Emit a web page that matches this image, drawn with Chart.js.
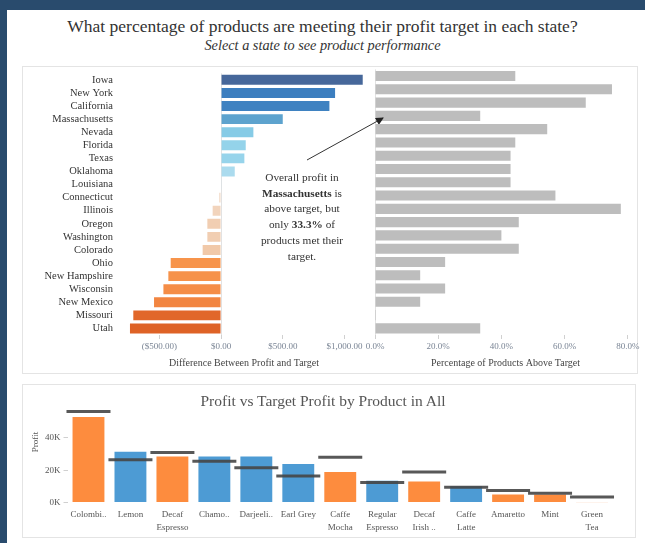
<!DOCTYPE html>
<html>
<head>
<meta charset="utf-8">
<script src="https://cdn.jsdelivr.net/npm/chart.js@4.4.1/dist/chart.umd.min.js"></script>
<style>
  html, body { margin: 0; padding: 0; }
  body { width: 645px; height: 543px; background: #294b6d; position: relative; overflow: hidden;
         font-family: "Liberation Serif", "DejaVu Serif", serif; }
  #panel { position: absolute; left: 7px; top: 10px; right: 0; bottom: 0; background: #fff; }
  .abs { position: absolute; }
  .box { position: absolute; border: 1px solid #e4e4e4; }
  #title { left: 0; width: 645px; top: 16px; text-align: center; font-size: 17.5px; color: #333; }
  #subtitle { left: 0; width: 645px; top: 37px; text-align: center; font-size: 14.3px; font-style: italic; color: #333; }
  #note { left: 222px; width: 160px; top: 170px; text-align: center; font-size: 11.3px; line-height: 15.7px; color: #333; white-space: nowrap; }
  #btitle { left: 100px; width: 446px; top: 392px; text-align: center; font-size: 15.5px; color: #555; }
  #ylab { left: 15px; top: 437px; width: 40px; text-align: center; font-size: 9px; color: #555; transform: rotate(-90deg); transform-origin: 20px 5px; }
  canvas { position: absolute; }
</style>
</head>
<body>
<div id="panel"></div>
<div class="box" style="left:22px; top:66px; width:614px; height:306px;"></div>
<div class="box" style="left:22px; top:384px; width:612px; height:152px;"></div>
<div id="title" class="abs">What percentage of products are meeting their profit target in each state?</div>
<div id="subtitle" class="abs">Select a state to see product performance</div>

<canvas id="diffChart" width="352" height="311" style="left:22px; top:62px;"></canvas>
<canvas id="pctChart" width="284" height="311" style="left:360px; top:62px;"></canvas>
<canvas id="productChart" width="616" height="152" style="left:22px; top:384px;"></canvas>

<div id="note" class="abs">Overall profit in<br><b>Massachusetts</b> is<br>above target, but<br>only <b>33.3%</b> of<br>products met their<br>target.</div>
<svg class="abs" style="left:0; top:0;" width="645" height="543">
  <defs>
    <marker id="head" markerWidth="8" markerHeight="8" refX="7" refY="4" orient="auto">
      <path d="M0,0 L8,4 L0,8 z" fill="#222"></path>
    </marker>
  </defs>
  <line x1="307" y1="160" x2="383" y2="118" stroke="#333" stroke-width="1" marker-end="url(#head)"></line>
</svg>
<div id="btitle" class="abs">Profit vs Target Profit by Product in All</div>
<div id="ylab" class="abs">Profit</div>

<script>
// states, top to bottom
const states = ['Iowa', 'New York', 'California', 'Massachusetts', 'Nevada', 'Florida', 'Texas',
  'Oklahoma', 'Louisiana', 'Connecticut', 'Illinois', 'Oregon', 'Washington', 'Colorado', 'Ohio',
  'New Hampshire', 'Wisconsin', 'New Mexico', 'Missouri', 'Utah'];
// profit minus target ($)
const profitVsTarget = [1148, 924, 878, 500, 262, 200, 189, 111, 3, -15, -68, -111, -111, -149, -408,
  -427, -467, -543, -711, -738];
// share of products above target (%)
const pctAboveTarget = [44.4, 75.0, 66.7, 33.3, 54.5, 44.4, 42.9, 42.9, 42.9, 57.1, 77.8, 45.5, 40.0,
  45.5, 22.2, 14.3, 22.2, 14.3, 0.3, 33.3];

// products (bottom chart), profit and target profit in $K
const products = [['Colombi..'], ['Lemon'], ['Decaf', 'Espresso'], ['Chamo..'], ['Darjeeli..'],
  ['Earl Grey'], ['Caffe', 'Mocha'], ['Regular', 'Espresso'], ['Decaf', 'Irish ..'], ['Caffe', 'Latte'],
  ['Amaretto'], ['Mint'], ['Green', 'Tea']];
const productProfit = [53.0, 31.5, 28.5, 28.5, 28.5, 23.9, 18.9, 13.5, 13.0, 10.0, 4.9, 4.9, -0.3];
const productTarget = [56.4, 26.5, 31.0, 25.5, 21.5, 16.4, 28.0, 12.4, 18.9, 9.4, 7.4, 5.7, 3.4];

const diffTicks = [-500, 0, 500, 1000];
const pctTicks = [0, 20, 40, 60, 80];
const profitTicks = [0, 20, 40];

document.addEventListener("DOMContentLoaded", function() {
    const serif = '"Liberation Serif", serif';

    function mix(stops, t) {
        t = Math.max(0, Math.min(1, t));
        for (let i = 1; i < stops.length; i++) {
            if (t <= stops[i][0]) {
                const a = stops[i - 1], b = stops[i];
                const f = (t - a[0]) / (b[0] - a[0]);
                const c = a[1].map((v, k) => Math.round(v + (b[1][k] - v) * f));
                return 'rgb(' + c.join(',') + ')';
            }
        }
        return 'rgb(' + stops[stops.length - 1][1].join(',') + ')';
    }
    const blues = [[0, [200, 230, 242]], [0.2, [140, 208, 233]], [0.45, [90, 160, 204]],
                   [0.8, [60, 127, 192]], [1, [70, 103, 154]]];
    const oranges = [[0, [243, 222, 205]], [0.25, [240, 196, 160]], [0.5, [248, 152, 78]],
                     [0.75, [242, 132, 64]], [1, [222, 98, 38]]];
    function divColor(v) {
        return v >= 0 ? mix(blues, v / 1148) : mix(oranges, -v / 738);
    }

    function money(v) {
        const s = '$' + Math.abs(v).toLocaleString('en-US', { minimumFractionDigits: 2, maximumFractionDigits: 2 });
        return v < 0 ? '(' + s + ')' : s;
    }

    const tickFont = { family: serif, size: 9 };
    const axisTitleFont = { family: serif, size: 10 };

    new Chart(document.getElementById('diffChart'), {
        type: 'bar',
        data: {
            labels: states,
            datasets: [{
                data: profitVsTarget,
                backgroundColor: profitVsTarget.map(divColor),
                categoryPercentage: 0.76,
                barPercentage: 1
            }]
        },
        options: {
            indexAxis: 'y',
            responsive: false,
            animation: false,
            layout: { padding: { top: 7.4, right: 4 } },
            plugins: { legend: { display: false }, tooltip: { enabled: false } },
            scales: {
                x: {
                    min: -835, max: 1207,
                    afterBuildTicks: s => { s.ticks = diffTicks.map(v => ({ value: v })); },
                    afterFit: s => { s.height = 38; },
                    border: { display: false },
                    grid: {
                        color: c => c.tick && c.tick.value === 0 ? '#e2e2e2' : 'transparent',
                        tickColor: '#d0d0d0', tickLength: 4
                    },
                    ticks: { font: tickFont, color: '#7a8595', padding: 2, maxRotation: 0, callback: v => money(v) },
                    title: { display: true, text: 'Difference Between Profit and Target', font: axisTitleFont,
                             color: '#444', padding: { top: 2 } }
                },
                y: {
                    afterFit: s => { s.width = 96; },
                    border: { display: false },
                    grid: { display: false, drawTicks: false },
                    ticks: { font: { family: serif, size: 10.5 }, color: '#333', padding: 5, autoSkip: false }
                }
            }
        }
    });

    new Chart(document.getElementById('pctChart'), {
        type: 'bar',
        data: {
            labels: states,
            datasets: [{
                data: pctAboveTarget,
                backgroundColor: '#bdbdbd',
                categoryPercentage: 0.76,
                barPercentage: 1
            }]
        },
        options: {
            indexAxis: 'y',
            responsive: false,
            animation: false,
            layout: { padding: { top: 7.4, left: 15, right: 8 } },
            plugins: { legend: { display: false }, tooltip: { enabled: false } },
            scales: {
                x: {
                    min: 0, max: 82.6,
                    afterBuildTicks: s => { s.ticks = pctTicks.map(v => ({ value: v })); },
                    afterFit: s => { s.height = 38; },
                    border: { display: false },
                    grid: {
                        color: c => c.tick && c.tick.value === 0 ? '#e2e2e2' : 'transparent',
                        tickColor: '#d0d0d0', tickLength: 4
                    },
                    ticks: { font: tickFont, color: '#7a8595', padding: 2, maxRotation: 0, callback: v => v.toFixed(1) + '%' },
                    title: { display: true, text: 'Percentage of Products Above Target', font: axisTitleFont,
                             color: '#444', padding: { top: 2 } }
                },
                y: { display: false }
            }
        }
    });

    new Chart(document.getElementById('productChart'), {
        type: 'bar',
        data: {
            labels: products,
            datasets: [
                {
                    type: 'line',
                    data: productTarget,
                    showLine: false,
                    pointStyle: 'line',
                    pointRadius: 22,
                    pointBorderWidth: 3,
                    borderColor: 'rgba(70,70,70,0.9)',
                    order: 0
                },
                {
                    data: productProfit,
                    backgroundColor: productProfit.map((v, i) =>
                        v < 0 ? '#f9cdb2' : (v < productTarget[i] ? '#fd8c3e' : '#4d9bd4')),
                    categoryPercentage: 0.76,
                    barPercentage: 1,
                    order: 1
                }
            ]
        },
        options: {
            responsive: false,
            animation: false,
            layout: { padding: { top: 2, right: 3.7 } },
            plugins: { legend: { display: false }, tooltip: { enabled: false } },
            scales: {
                x: {
                    afterFit: s => { s.height = 32; },
                    border: { display: false },
                    grid: { display: false, drawTicks: false },
                    ticks: { font: { family: serif, size: 9, lineHeight: 1.45 }, color: '#555', padding: 4,
                             maxRotation: 0, autoSkip: false }
                },
                y: {
                    min: -1, max: 58,
                    afterBuildTicks: s => { s.ticks = profitTicks.map(v => ({ value: v })); },
                    afterFit: s => { s.width = 45.5; },
                    border: { display: false },
                    grid: { color: 'transparent', tickColor: '#d0d0d0', tickLength: 4 },
                    ticks: { font: tickFont, color: '#555', padding: 3, callback: v => v + 'K' }
                }
            }
        }
    });
});
</script>
</body>
</html>
